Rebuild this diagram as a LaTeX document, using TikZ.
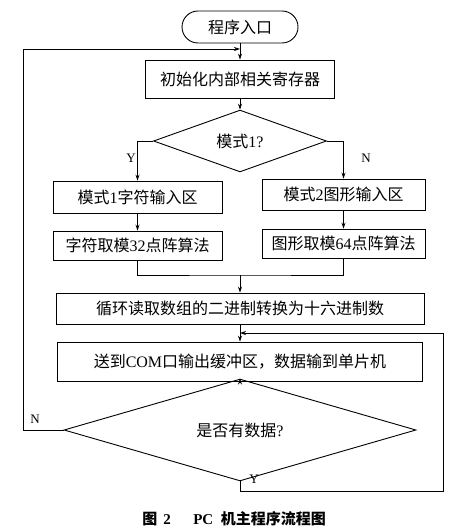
\documentclass[tikz,border=0pt]{standalone}
\usepackage{fontspec}
\setmainfont{Liberation Serif}
\newfontfamily\cjk{Noto Sans CJK SC}
\usetikzlibrary{shapes.geometric,arrows.meta}
\begin{document}
\begin{tikzpicture}[x=1pt,y=-1pt,
  every node/.style={font=\fontsize{16}{19}\selectfont},
  box/.style={draw, line width=0.9pt, inner sep=1pt},
  term/.style={draw, line width=0.9pt, rounded corners=16pt, inner sep=1pt},
  dia/.style={draw, line width=0.9pt, diamond, inner sep=0pt},
  line/.style={line width=0.7pt},
  arr/.style={line width=0.7pt, -{Stealth[length=6pt,width=4pt]}},
  lbl/.style={font=\fontsize{13}{15}\selectfont, inner sep=0pt}]
\useasboundingbox (0,0) rectangle (470,529);
\node[term, minimum width=116pt, minimum height=32pt] (start) at (240,27) {\cjk 程序入口};
\node[box, minimum width=189pt, minimum height=38pt] (init) at (240,79) {\cjk 初始化内部相关寄存器};
\node[dia, minimum width=173pt, minimum height=47pt] (d1) at (240,141) {{\cjk 模式}1?};
\node[box, minimum width=169pt, minimum height=32pt] (m1) at (137.5,197) {{\cjk 模式}1{\cjk 字符输入区}};
\node[box, minimum width=163pt, minimum height=31pt] (m2) at (343.5,194.5) {{\cjk 模式}2{\cjk 图形输入区}};
\node[box, minimum width=169pt, minimum height=29pt] (a1) at (137.5,245.5) {{\cjk 字符取模}32{\cjk 点阵算法}};
\node[box, minimum width=163pt, minimum height=29pt] (a2) at (343.5,243.5) {{\cjk 图形取模}64{\cjk 点阵算法}};
\node[box, minimum width=368pt, minimum height=31pt] (conv) at (240,308.5) {\cjk 循环读取数组的二进制转换为十六进制数};
\node[box, minimum width=365pt, minimum height=39pt] (send) at (240,361.5) {{\cjk 送到}COM{\cjk 口输出缓冲区，数据输到单片机}};
\node[dia, minimum width=352pt, minimum height=64pt] (d2) at (240,430) {{\cjk 是否有数据}?};
% junctions
\coordinate (top) at (240,49);
\coordinate (mj) at (240,275);
\coordinate (lj) at (240,333);
\coordinate (nl) at (23,430);
\coordinate (nt) at (23,49);
\coordinate (yb) at (240,491);
\coordinate (yr) at (443,491);
\coordinate (yt) at (443,333);
% flow
\draw[arr] (start) -- (init);
\draw[arr] (init) -- (d1);
\draw[arr] (d1.west) -| (m1.north);
\draw[arr] (d1.east) -| (m2.north);
\draw[arr] (m1) -- (a1);
\draw[arr] (m2) -- (a2);
\draw[line] (a1.south) |- (mj) -| (a2.south);
\draw[arr] (mj) -- (conv.north);
\draw[arr] (conv) -- (send);
\draw[arr] (send) -- (d2);
\draw[arr] (d2.west) -- (nl) -- (nt) -- (top);
\draw[arr] (d2.south) -- (yb) -- (yr) -- (yt) -- (lj);
% labels
\node[lbl] (ly1) at (131,158) {Y};
\node[lbl] (ln1) at (366,158) {N};
\node[lbl] (ln2) at (35,419) {N};
\node[lbl] (ly2) at (254,479) {Y};
\node[font=\fontsize{15}{18}\selectfont\bfseries] (cap) at (234,519) {{\cjk 图}\hspace{0.4em}2\hspace{1.5em}PC\hspace{0.5em}{\cjk 机主程序流程图}};
\end{tikzpicture}
\end{document}
